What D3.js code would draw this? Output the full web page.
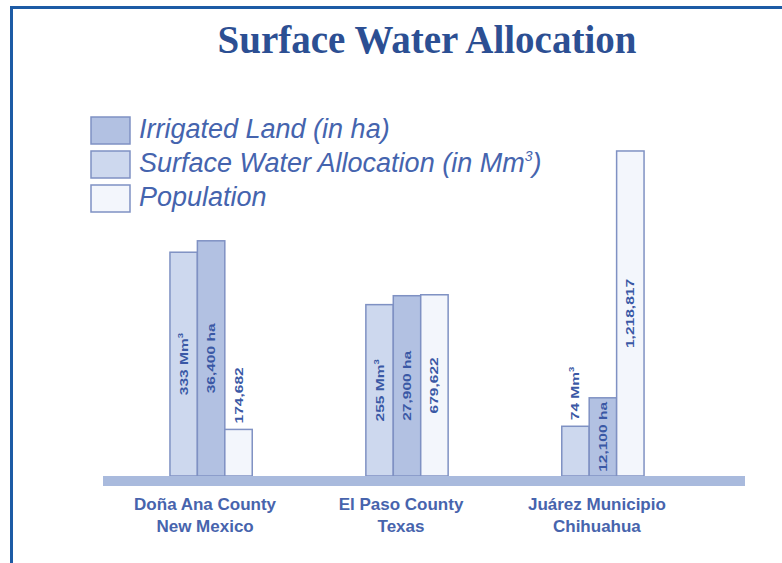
<!DOCTYPE html>
<html><head><meta charset="utf-8">
<script src="https://cdn.jsdelivr.net/npm/d3@7"></script>
<style>
html,body{margin:0;padding:0;background:#fff;}
svg{display:block;}
</style></head>
<body>
<script>
// ---- data ----
const categories = ["Doña Ana County|New Mexico", "El Paso County|Texas", "Juárez Municipio|Chihuahua"];
const seriesNames = ["Surface Water Allocation", "Irrigated Land", "Population"];
const surfaceWater = [333, 255, 74];          // Mm³
const irrigatedLand = [36400, 27900, 12100];  // ha
const population = [174682, 679622, 1218817];
const surfaceLabels = ["333 Mm", "255 Mm", "74 Mm"];
const irrigatedLabels = ["36,400 ha", "27,900 ha", "12,100 ha"];
const populationLabels = ["174,682", "679,622", "1,218,817"];
const legendItems = ["Irrigated Land (in ha)", "Surface Water Allocation (in Mm", "Population"];
const titleText = "Surface Water Allocation";

const W = 782, H = 563;
const svg = d3.select("body").append("svg").attr("width", W).attr("height", H);

// frame
svg.append("rect").attr("x", 10).attr("y", 6).attr("width", W).attr("height", 3).attr("fill", "#1d5ba5");
svg.append("rect").attr("x", 10).attr("y", 6).attr("width", 3).attr("height", H).attr("fill", "#1d5ba5");

// title
svg.append("text").attr("x", 427).attr("y", 53).attr("text-anchor", "middle")
  .attr("font-family", "'Liberation Serif', 'DejaVu Serif', serif").attr("font-weight", "bold")
  .attr("font-size", 39).attr("fill", "#2c4f93").text(titleText);

const colors = {
  "Surface Water Allocation": "#cdd8ee",
  "Irrigated Land": "#b2c1e2",
  "Population": "#f3f6fc"
};
const stroke = "#7f91c3";
const textBlue = "#3a58a5";

// scales
const baseY = 476, topY = 140;
const x0 = d3.scaleBand().domain(categories).range([72, 742]).paddingInner(0.58).paddingOuter(0.5);
const x1 = d3.scaleBand().domain(seriesNames).range([0, x0.bandwidth()]);
const yScales = {
  "Surface Water Allocation": d3.scaleLinear().domain([0, 500]).range([baseY, topY]),
  "Irrigated Land": d3.scaleLinear().domain([0, 52000]).range([baseY, topY]),
  "Population": d3.scaleLinear().domain([0, 1260000]).range([baseY, topY])
};
const valuesBy = {
  "Surface Water Allocation": surfaceWater,
  "Irrigated Land": irrigatedLand,
  "Population": population
};
const labelsBy = {
  "Surface Water Allocation": surfaceLabels,
  "Irrigated Land": irrigatedLabels,
  "Population": populationLabels
};

const rows = [];
categories.forEach((c, i) => seriesNames.forEach(s => rows.push({cat: c, s, v: valuesBy[s][i], label: labelsBy[s][i]})));

const g = svg.append("g");
g.selectAll("rect.bar").data(rows).join("rect").attr("class", "bar")
  .attr("x", d => x0(d.cat) + x1(d.s))
  .attr("y", d => yScales[d.s](d.v))
  .attr("width", x1.bandwidth())
  .attr("height", d => baseY - yScales[d.s](d.v))
  .attr("fill", d => colors[d.s]).attr("stroke", stroke).attr("stroke-width", 1.5);

// value labels (rotated)
const stretch = 1.35;
rows.forEach(d => {
  const cx = x0(d.cat) + x1(d.s) + x1.bandwidth() / 2;
  const top = yScales[d.s](d.v);
  const t = g.append("text")
    .attr("font-family", "'Liberation Sans', Arial, sans-serif").attr("font-weight", "bold")
    .attr("font-size", 11.5).attr("fill", textBlue).attr("text-anchor", "middle");
  t.append("tspan").text(d.label);
  if (d.s === "Surface Water Allocation") {
    t.append("tspan").attr("font-size", 7).attr("dy", -5).text("3");
  }
  const len = t.node().getComputedTextLength() * stretch;
  const hgt = baseY - top;
  let cy;
  if (len < hgt) cy = top + hgt / 2;
  else cy = top - 6 - len / 2;
  t.attr("transform", `translate(${cx + 4},${cy}) rotate(-90) scale(${stretch},1)`);
});

// baseline
svg.append("rect").attr("x", 103).attr("y", 476).attr("width", 642).attr("height", 10).attr("fill", "#a9badd");

// category labels
categories.forEach(c => {
  const parts = c.split("|");
  const cx = x0(c) + x0.bandwidth() / 2 - 6;
  parts.forEach((p, j) => {
    svg.append("text").attr("x", cx).attr("y", 510 + j * 22).attr("text-anchor", "middle")
      .attr("font-family", "'Liberation Sans', Arial, sans-serif").attr("font-weight", "bold")
      .attr("font-size", 17).attr("fill", "#4764ad").text(p);
  });
});

// legend
const legendColors = [colors["Irrigated Land"], colors["Surface Water Allocation"], colors["Population"]];
legendItems.forEach((item, i) => {
  const y = 117 + i * 34;
  svg.append("rect").attr("x", 91).attr("y", y).attr("width", 39).attr("height", 27)
    .attr("fill", legendColors[i]).attr("stroke", stroke).attr("stroke-width", 1.5);
  const t = svg.append("text").attr("x", 139).attr("y", y + 21)
    .attr("font-family", "'Liberation Sans', Arial, sans-serif").attr("font-style", "italic")
    .attr("font-size", 27).attr("fill", "#4564ae");
  t.append("tspan").text(item);
  if (i === 1) {
    t.append("tspan").attr("font-size", 14).attr("dy", -11).text("3");
    t.append("tspan").attr("dy", 11).text(")");
  }
});
</script>
</body></html>
